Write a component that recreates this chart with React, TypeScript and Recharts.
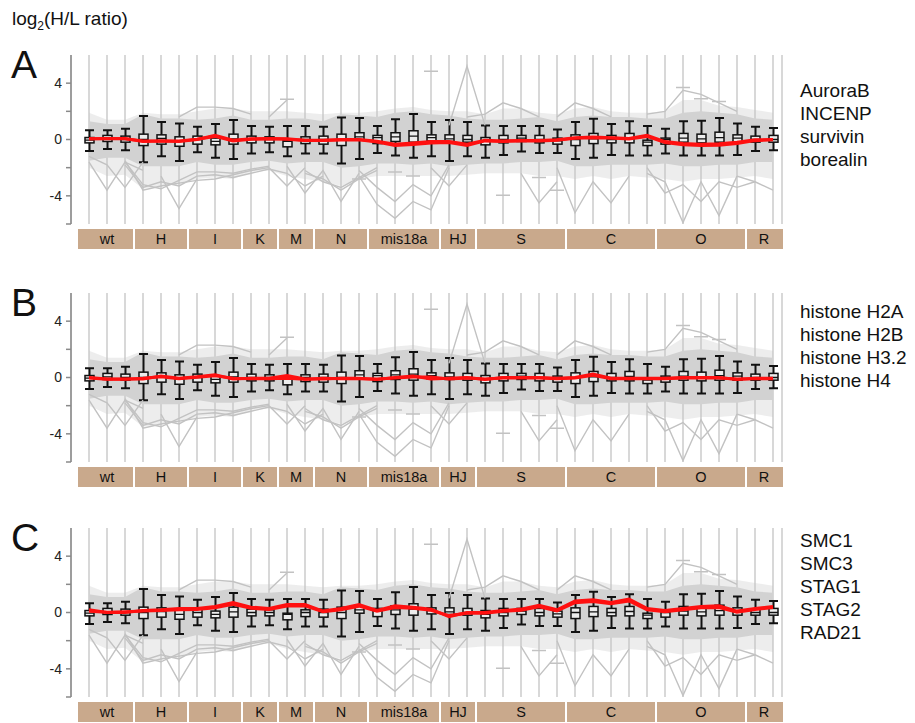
import React from "react";
import { ComposedChart, Area, Bar, Line, XAxis, YAxis, CartesianGrid } from "recharts";

// sample groups along the x axis
const GROUP_NAMES = ["wt", "H", "I", "K", "M", "N", "mis18a", "HJ", "S", "C", "O", "R"];
const GROUP_SIZES = [3, 3, 3, 2, 2, 3, 4, 2, 5, 5, 5, 2];

// box plot of all proteins per sample (same in every panel)
const W_HI = [0.66, 0.66, 0.76, 1.67, 1.24, 1.14, 0.9, 1.1, 1.38, 0.95, 0.9, 0.95, 0.95, 0.9, 1.57, 1.52, 0.95, 1.43, 1.81, 1.24, 1.38, 1.24, 1.0, 0.95, 0.95, 0.95, 0.71, 1.24, 1.48, 1.1, 1.29, 0.95, 0.76, 1.29, 1.33, 1.52, 1.14, 0.9, 0.81];
const W_LO = [-0.81, -0.67, -0.76, -1.62, -1.19, -1.52, -0.9, -1.29, -1.38, -1.0, -0.9, -1.19, -1.0, -1.0, -1.71, -1.38, -0.95, -1.14, -1.29, -1.19, -1.52, -1.19, -1.29, -1.1, -0.86, -0.95, -0.95, -1.38, -1.29, -1.1, -1.14, -1.14, -1.0, -1.14, -1.14, -1.14, -1.1, -0.81, -0.76];
const Q3 = [0.14, 0.29, 0.24, 0.38, 0.33, 0.19, 0.24, 0.1, 0.38, 0.24, 0.19, -0.05, 0.19, 0.24, 0.38, 0.48, 0.29, 0.48, 0.62, 0.33, 0.33, 0.29, 0.14, 0.29, 0.29, 0.29, 0.1, 0.33, 0.43, 0.29, 0.43, -0.05, 0.1, 0.43, 0.38, 0.52, 0.33, 0.24, 0.29];
const Q1 = [-0.24, -0.14, -0.19, -0.43, -0.33, -0.48, -0.33, -0.38, -0.33, -0.24, -0.24, -0.52, -0.29, -0.33, -0.43, -0.05, -0.29, -0.14, -0.19, -0.1, -0.14, -0.19, -0.38, -0.24, -0.14, -0.24, -0.33, -0.43, -0.29, -0.24, -0.24, -0.43, -0.33, -0.19, -0.24, -0.19, -0.19, -0.19, -0.19];
const MED = [-0.05, 0.05, 0, 0, 0.07, -0.14, 0, -0.14, 0.05, 0, 0, -0.14, 0, 0, 0, 0.19, 0.14, 0.19, 0.24, 0.14, 0.05, 0, -0.14, 0, 0.1, 0, -0.1, 0, 0.05, 0, 0.07, -0.19, 0, 0.1, 0.05, 0.14, 0.1, 0, 0];

// dense grey bundle of all protein profiles
const CORE_HI = [1.3, 1.1, 1.1, 1.8, 1.5, 1.5, 1.4, 1.5, 1.7, 1.4, 1.4, 1.5, 1.5, 1.3, 1.8, 1.7, 1.6, 1.9, 2.0, 1.8, 1.7, 1.5, 1.4, 1.4, 1.5, 1.6, 1.3, 1.6, 1.7, 1.6, 1.6, 1.5, 1.5, 1.9, 2.0, 1.9, 1.8, 1.5, 1.4];
const CORE_LO = [-1.5, -1.3, -1.3, -1.9, -1.9, -1.9, -1.6, -1.8, -1.8, -1.6, -1.5, -1.7, -1.6, -1.6, -2.0, -1.9, -1.7, -1.7, -1.8, -1.7, -1.9, -1.8, -1.7, -1.7, -1.6, -1.6, -1.5, -1.9, -1.9, -1.8, -1.8, -1.8, -1.7, -1.9, -1.9, -1.8, -1.8, -1.6, -1.6];
const OUTER_HI = [1.9, 1.4, 1.4, 1.9, 1.8, 1.8, 2.0, 2.2, 2.2, 2.0, 2.0, 2.0, 1.9, 1.8, 1.9, 1.9, 2.0, 2.2, 2.3, 2.1, 2.0, 2.0, 1.8, 2.2, 2.2, 1.9, 1.8, 2.2, 2.3, 2.0, 1.9, 1.9, 2.0, 2.8, 2.8, 2.4, 2.3, 2.1, 1.9];
const OUTER_LO = [-2.0, -2.6, -2.5, -3.5, -3.3, -3.2, -2.8, -2.7, -2.8, -2.3, -2.2, -2.6, -2.8, -3.0, -3.3, -2.8, -2.6, -2.6, -2.6, -2.6, -2.6, -2.5, -2.4, -2.4, -2.4, -2.6, -2.6, -2.8, -2.6, -2.8, -2.6, -2.7, -2.8, -3.0, -2.8, -2.8, -2.7, -2.6, -2.8];

// individual grey profiles that leave the bundle (start column + values)
const GRAY_LINES = [
  { start: 0, values: [-1.6, -3.6, -1.6, -2.2] },
  { start: 0, values: [-1.2, -1.8, -3.4, -1.6] },
  { start: 2, values: [-1.5, -3.6, -3.3, -3.1, -2.9, -2.8, -2.5, -2.2, -2.0] },
  { start: 2, values: [-1.8, -3.4, -3.0, -3.3, -2.6, -2.5, -2.7, -2.4, -2.1, -2.4, -3.3, -2.6] },
  { start: 2, values: [-1.6, -3.2, -3.5, -2.9, -2.3, -2.3, -2.4, -2.1, -1.9] },
  { start: 4, values: [-2.6, -4.9, -2.8] },
  { start: 10, values: [-2.0, -3.3, -2.0] },
  { start: 11, values: [-1.9, -3.8, -2.2, -4.4, -2.4] },
  { start: 12, values: [-2.4, -2.8, -3.6, -2.8, -2.2] },
  { start: 12, values: [-2.2, -3.0, -3.4, -2.7, -2.0] },
  { start: 15, values: [-2.6, -4.6, -5.6, -4.4, -5.0, -2.0] },
  { start: 15, values: [-2.2, -3.4, -4.4, -3.2, -4.0, -1.8] },
  { start: 20, values: [1.0, 5.2, 1.0] },
  { start: 19, values: [-2.0, -3.3, -1.8] },
  { start: 24, values: [-2.4, -4.5, -3.0] },
  { start: 26, values: [-2.0, -5.2, -3.0, -4.5, -2.6] },
  { start: 31, values: [-2.4, -3.0, -5.9, -3.0, -5.4, -2.6] },
  { start: 31, values: [-2.0, -3.8, -3.2, -4.4, -3.0, -3.4, -3.0] },
  { start: 31, values: [1.8, 2.0, 3.5, 3.2, 2.6, 2.0] },
  { start: 21, values: [1.6, 1.8, 2.6, 2.2, 1.6] },
  { start: 26, values: [1.6, 2.6, 2.2, 1.6] },
  { start: 5, values: [1.6, 2.3, 2.3, 2.2, 1.8] },
  { start: 36, values: [-2.6, -3.0, -3.6] },
  { start: 10, values: [1.6, 2.8] },
];

// outliers drawn as short dashes
const OUTLIER_COLS = [11, 15, 17, 18, 19, 23, 25, 26, 33, 34, 35];
const OUTLIER_VALS = [2.85, -2.8, -2.3, -2.6, 4.85, -3.95, -2.7, -3.6, 3.7, 2.9, 2.7];

// highlighted complexes (red)
const RED_A1 = [0.05, 0.07, 0.07, -0.14, -0.1, -0.14, 0, 0.29, -0.05, 0.05, 0.07, 0.05, -0.05, -0.05, 0, 0, -0.12, -0.33, -0.25, -0.15, -0.15, -0.33, -0.05, -0.1, -0.07, -0.07, -0.02, 0.12, 0.17, 0.12, 0.07, 0.29, -0.15, -0.28, -0.33, -0.3, -0.2, -0.02, 0];
const RED_A2 = [0.05, 0.05, 0.05, -0.1, -0.1, -0.1, 0.02, 0.22, -0.1, 0.02, 0.05, 0.02, -0.07, -0.07, -0.03, -0.02, -0.18, -0.42, -0.35, -0.25, -0.22, -0.42, -0.1, -0.14, -0.1, -0.1, -0.05, 0.08, 0.12, 0.1, 0.04, 0.22, -0.22, -0.38, -0.42, -0.4, -0.28, -0.08, -0.02];
const RED_B1 = [0, -0.1, -0.1, -0.1, 0.1, -0.05, 0.05, 0.19, -0.1, -0.05, -0.05, 0.14, -0.1, -0.1, -0.05, -0.05, -0.14, 0, 0.1, -0.1, -0.05, 0, -0.14, 0, 0, 0, -0.05, 0, 0.24, -0.05, -0.05, -0.05, -0.05, 0, 0, 0, -0.14, -0.05, -0.05];
const RED_B2 = [-0.03, -0.12, -0.12, -0.06, 0.06, -0.08, 0.02, 0.12, -0.06, -0.08, -0.08, -0.05, -0.12, -0.06, -0.08, -0.08, -0.1, -0.04, 0.04, 0.04, -0.1, -0.04, -0.1, -0.04, -0.04, -0.04, -0.08, -0.04, 0.16, -0.08, -0.08, -0.08, -0.08, -0.04, -0.04, -0.04, -0.1, -0.08, -0.08];
const RED_C1 = [0.19, 0, 0, 0.14, 0.19, 0.29, 0.29, 0.43, 0.71, 0.38, 0.29, 0.57, 0.57, 0.1, 0.29, 0.57, 0.14, 0.48, 0.38, 0.24, -0.29, 0, 0, 0.14, 0.24, 0.52, 0.19, 0.81, 0.9, 0.71, 0.95, 0.29, 0.14, 0.29, 0.43, 0.48, 0.1, 0.29, 0.43];
const RED_C2 = [0.08, 0.02, 0.05, 0.1, 0.14, 0.2, 0.22, 0.33, 0.58, 0.3, 0.22, 0.46, 0.48, 0.05, 0.2, 0.45, 0.1, 0.36, 0.3, 0.16, -0.22, -0.05, -0.05, 0.08, 0.16, 0.4, 0.12, 0.7, 0.78, 0.62, 0.82, 0.2, 0.06, 0.2, 0.34, 0.36, 0.02, 0.22, 0.36];

const BAND = 18;
const GRAY = "#c2c2c2";
const CORE = "#d2d2d2";
const RED = "#ff1010";
const TAN = "#c9a98c";
const FONT = "'Liberation Sans', Arial, sans-serif";

const COLUMNS: string[] = [];
const COL_GROUP: number[] = [];
GROUP_NAMES.forEach((g, gi) => {
  for (let k = 0; k < GROUP_SIZES[gi]; k++) {
    COLUMNS.push(`${g}-${k + 1}`);
    COL_GROUP.push(gi);
  }
});
const GROUP_START = GROUP_SIZES.map((_, gi) => COL_GROUP.indexOf(gi));

const DATA = COLUMNS.map((col, i) => {
  const row: Record<string, any> = {
    col,
    outer: [OUTER_LO[i], OUTER_HI[i]],
    core: [CORE_LO[i], CORE_HI[i]],
    whisker: [W_LO[i], W_HI[i]],
    wLo: W_LO[i],
    wHi: W_HI[i],
    q1: Q1[i],
    q3: Q3[i],
    med: MED[i],
    out: null,
    redA1: RED_A1[i],
    redA2: RED_A2[i],
    redB1: RED_B1[i],
    redB2: RED_B2[i],
    redC1: RED_C1[i],
    redC2: RED_C2[i],
  };
  GRAY_LINES.forEach((s, k) => {
    const j = i - s.start;
    row[`g${k}`] = j >= 0 && j < s.values.length ? s.values[j] : null;
  });
  return row;
});
OUTLIER_COLS.forEach((c, k) => {
  DATA[c].out = OUTLIER_VALS[k];
});

const PANELS = [
  { letter: "A", top: 0, reds: ["redA1", "redA2"], names: ["AuroraB", "INCENP", "survivin", "borealin"], namesBase: 97 },
  { letter: "B", top: 238, reds: ["redB1", "redB2"], names: ["histone H2A", "histone H2B", "histone H3.2", "histone H4"], namesBase: 318 },
  { letter: "C", top: 473, reds: ["redC1", "redC2"], names: ["SMC1", "SMC3", "STAG1", "STAG2", "RAD21"], namesBase: 547 },
];

function BoxShape(props: any) {
  const { x, y, width, height, payload } = props;
  if (x == null || y == null || !payload) return <g />;
  const top = Math.min(y, y + height);
  const h = Math.abs(height);
  const per = h / (payload.wHi - payload.wLo);
  const py = (v: number) => top + (payload.wHi - v) * per;
  const cx = x + width / 2;
  const half = 4.5;
  return (
    <g>
      <line x1={cx} x2={cx} y1={py(payload.wHi)} y2={py(payload.wLo)} stroke="#111" strokeWidth={2} />
      <line x1={cx - half} x2={cx + half} y1={py(payload.wHi)} y2={py(payload.wHi)} stroke="#111" strokeWidth={2} />
      <line x1={cx - half} x2={cx + half} y1={py(payload.wLo)} y2={py(payload.wLo)} stroke="#111" strokeWidth={2} />
      <rect
        x={cx - half}
        y={py(payload.q3)}
        width={half * 2}
        height={py(payload.q1) - py(payload.q3)}
        fill="#ececec"
        stroke="#111"
        strokeWidth={1.5}
      />
      <line x1={cx - half} x2={cx + half} y1={py(payload.med)} y2={py(payload.med)} stroke="#111" strokeWidth={1.3} />
    </g>
  );
}

function Dash(props: any) {
  const { cx, cy, value } = props;
  if (cx == null || cy == null || value == null) return <g key={props.key} />;
  return <line key={props.key} x1={cx - 7} x2={cx + 7} y1={cy} y2={cy} stroke={GRAY} strokeWidth={1.5} />;
}

// the tan strip with group names is drawn once per group, at the group's first column
function GroupTick(props: any) {
  const { x, y, payload } = props;
  const i = COLUMNS.indexOf(payload.value);
  if (i < 0) return <g />;
  const gi = COL_GROUP[i];
  const start = GROUP_START[gi];
  if (i !== start) return <g />;
  const n = GROUP_SIZES[gi];
  const left = x - BAND / 2 + (i === 0 ? -2 : 1);
  const right = x - BAND / 2 + n * BAND + (gi === GROUP_NAMES.length - 1 ? 1 : -1);
  return (
    <g>
      <rect x={left} y={y + 5} width={right - left} height={20} fill={TAN} />
      <text
        x={x + ((n - 1) * BAND) / 2}
        y={y + 20}
        textAnchor="middle"
        fontSize={14.5}
        fontFamily={FONT}
        fill="#111"
      >
        {GROUP_NAMES[gi]}
      </text>
    </g>
  );
}

function Panel({ top, reds }: { top: number; reds: string[] }) {
  return (
    <div style={{ position: "absolute", left: 0, top }}>
      <ComposedChart width={800} height={254} data={DATA} margin={{ top: 55, right: 18, left: 0, bottom: 0 }}>
        <CartesianGrid horizontal={false} stroke="#d8d8d8" strokeWidth={2} />
        <XAxis
          dataKey="col"
          interval={0}
          padding={{ left: 9, right: 0 }}
          axisLine={false}
          tickLine={false}
          tickSize={0}
          tickMargin={0}
          height={30}
          tick={<GroupTick />}
        />
        <YAxis
          type="number"
          domain={[-6, 6]}
          ticks={[-6, -4, -2, 0, 2, 4]}
          allowDataOverflow
          width={71}
          axisLine={{ stroke: "#8a8a8a", strokeWidth: 1.5 }}
          tickLine={{ stroke: "#8a8a8a", strokeWidth: 1.5 }}
          tickSize={5}
          tickMargin={4}
          tick={{ fill: "#222", fontSize: 14, fontFamily: FONT }}
          tickFormatter={(v: number) => (v === 4 || v === 0 || v === -4 ? String(v) : "")}
        />
        <Area dataKey="outer" stroke="none" fill={GRAY} fillOpacity={0.3} isAnimationActive={false} />
        <Area dataKey="core" stroke="none" fill={CORE} fillOpacity={1} isAnimationActive={false} />
        {GRAY_LINES.map((_, k) => (
          <Line
            key={k}
            dataKey={`g${k}`}
            stroke={GRAY}
            strokeWidth={1.4}
            dot={false}
            connectNulls={false}
            isAnimationActive={false}
          />
        ))}
        <Line dataKey="out" stroke="none" dot={<Dash />} isAnimationActive={false} />
        <Bar dataKey="whisker" barSize={9} shape={<BoxShape />} isAnimationActive={false} />
        {reds.map((k) => (
          <Line key={k} dataKey={k} stroke={RED} strokeWidth={3} dot={false} isAnimationActive={false} />
        ))}
      </ComposedChart>
    </div>
  );
}

export default function App() {
  return (
    <div style={{ position: "absolute", left: 0, top: 0, width: 915, height: 723, background: "#fff" }}>
      {PANELS.map((p) => (
        <Panel key={p.letter} top={p.top} reds={p.reds} />
      ))}
      <svg width={915} height={723} style={{ position: "absolute", left: 0, top: 0, pointerEvents: "none" }}>
        <text x={12} y={25} fontSize={19} fontFamily={FONT} fill="#111">
          log
          <tspan fontSize={12} dy={5}>2</tspan>
          <tspan dy={-5}>(H/L ratio)</tspan>
        </text>
        {PANELS.map((p) => (
          <g key={p.letter}>
            <text x={11} y={p.top + 78} fontSize={39} fontFamily={FONT} fill="#111">
              {p.letter}
            </text>
            {p.names.map((n, k) => (
              <text key={n} x={800} y={p.namesBase + k * 23} fontSize={19} fontFamily={FONT} fill="#111">
                {n}
              </text>
            ))}
          </g>
        ))}
      </svg>
    </div>
  );
}
